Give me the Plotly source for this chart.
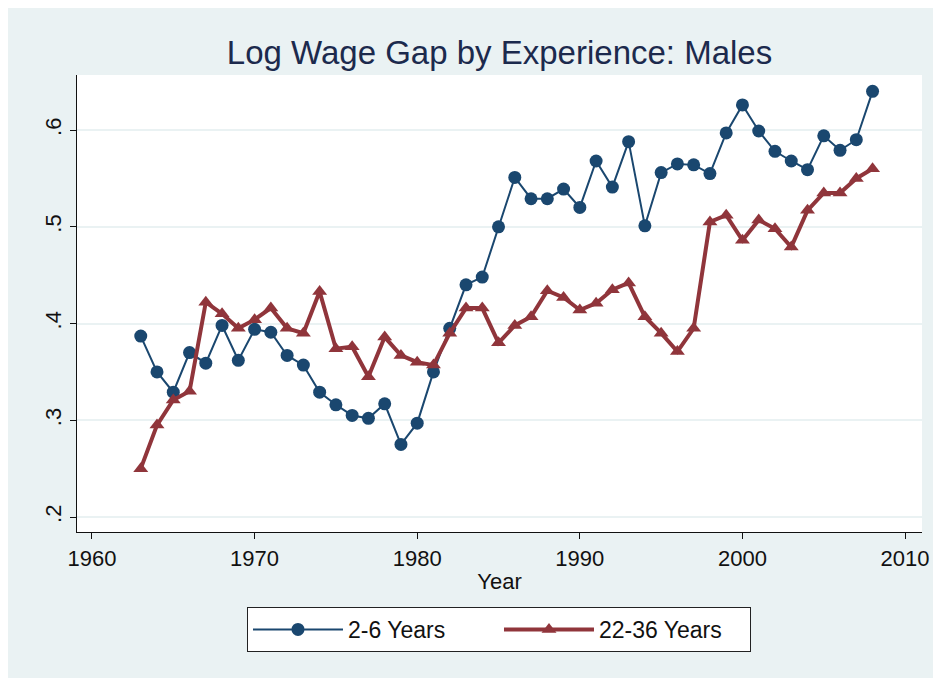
import plotly.graph_objects as go

years = list(range(1963, 2009))

gap_2_6 = [0.387, 0.350, 0.329, 0.370, 0.359, 0.398, 0.362, 0.394, 0.391, 0.367,
           0.357, 0.329, 0.316, 0.305, 0.302, 0.317, 0.275, 0.297, 0.350, 0.395,
           0.440, 0.448, 0.500, 0.551, 0.529, 0.529, 0.539, 0.520, 0.568, 0.541,
           0.588, 0.501, 0.556, 0.565, 0.564, 0.555, 0.597, 0.626, 0.599, 0.578,
           0.568, 0.559, 0.594, 0.579, 0.590, 0.640]

gap_22_36 = [0.250, 0.295, 0.321, 0.330, 0.422, 0.410, 0.395, 0.404, 0.416, 0.395,
             0.390, 0.433, 0.374, 0.376, 0.345, 0.386, 0.367, 0.360, 0.357, 0.390,
             0.416, 0.416, 0.380, 0.398, 0.407, 0.434, 0.427, 0.414, 0.421, 0.435,
             0.442, 0.407, 0.390, 0.371, 0.395, 0.505, 0.512, 0.486, 0.507, 0.498,
             0.479, 0.517, 0.535, 0.535, 0.550, 0.560]

x_ticks = [1960, 1970, 1980, 1990, 2000, 2010]
y_ticks = [0.2, 0.3, 0.4, 0.5, 0.6]
y_tick_labels = [".2", ".3", ".4", ".5", ".6"]

BLUE = "#1a476f"
RED = "#90353b"
BG = "#eaf2f3"

W, H = 933, 670

fig = go.Figure()
fig.add_trace(go.Scatter(
    x=years, y=gap_2_6, name="2-6 Years", mode="lines+markers",
    line=dict(color=BLUE, width=2),
    marker=dict(symbol="circle", size=13, color=BLUE),
))
fig.add_trace(go.Scatter(
    x=years, y=gap_22_36, name="22-36 Years", mode="lines+markers",
    line=dict(color=RED, width=4),
    marker=dict(symbol="triangle-up", size=13, color=RED),
))

fig.update_layout(
    width=W, height=H,
    margin=dict(l=69, r=14, t=67, b=146),
    paper_bgcolor=BG, plot_bgcolor="white",
    font=dict(family="Liberation Sans, Arial, sans-serif", color="#111111"),
    title=dict(text="Log Wage Gap by Experience: Males",
               font=dict(size=33, color="#1c2a4d"),
               x=0.5, xref="paper", xanchor="center",
               y=1 - 44 / H, yref="container", yanchor="middle"),
    showlegend=True,
    legend=dict(orientation="h", x=(248 - 77) / 850, xanchor="left",
                y=-0.164, yanchor="top",
                bgcolor="white", bordercolor="#222222", borderwidth=1,
                font=dict(size=23, color="#111111"),
                entrywidth=146, entrywidthmode="pixels",
                itemwidth=90, tracegroupgap=0),
    xaxis=dict(range=[1959.08, 2011.04], tickvals=x_ticks,
               showgrid=False, zeroline=False,
               showline=True, linecolor="#111111", linewidth=1.2,
               ticks="outside", ticklen=6, tickcolor="#111111",
               tickfont=dict(size=22), ticklabeloverflow="allow",
               title=dict(text="Year", font=dict(size=22), standoff=4)),
    yaxis=dict(range=[0.1845, 0.6569], tickvals=y_ticks, ticktext=y_tick_labels,
               showgrid=True, gridcolor=BG, gridwidth=1.5, zeroline=False,
               showline=True, linecolor="#111111", linewidth=1.2,
               ticks="outside", ticklen=6, tickcolor="#111111",
               tickangle=-90, tickfont=dict(size=22)),
)

fig.write_html("out.html")
